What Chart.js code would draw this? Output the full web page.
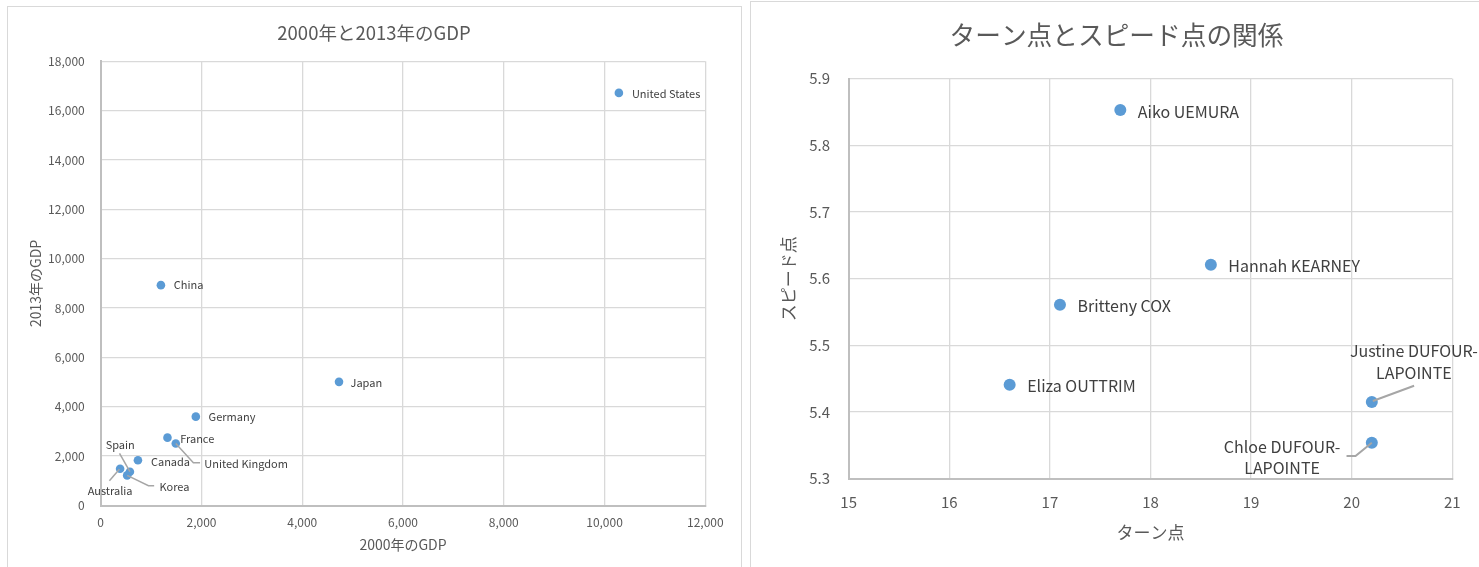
<!DOCTYPE html>
<html><head><meta charset="utf-8">
<script src="https://cdn.jsdelivr.net/npm/chart.js@4.4.1/dist/chart.umd.min.js"></script>
<style>
html,body{margin:0;padding:0;background:#fff;width:1479px;height:567px;overflow:hidden;position:relative;}
.panel{position:absolute;border:1px solid #d9d9d9;box-sizing:border-box;}
canvas{position:absolute;top:0;}
</style></head><body>
<div class="panel" style="left:7px;top:6px;width:735px;height:600px;"></div>
<div class="panel" style="left:750px;top:1px;width:760px;height:600px;"></div>
<canvas id="c1" width="745" height="567" style="left:0"></canvas>
<canvas id="c2" width="734" height="567" style="left:745px"></canvas>
<script>
// ---- data: chart 1 (GDP) ----
const gdpCountries = ['United States','China','Japan','Germany','France','United Kingdom','Canada','Spain','Australia','Korea'];
const gdp2000 = [10285, 1195, 4730, 1888, 1325, 1490, 739, 580, 385, 525];
const gdp2013 = [16720, 8930, 5010, 3600, 2750, 2515, 1835, 1370, 1490, 1220];
const gdpXTicks = [0, 2000, 4000, 6000, 8000, 10000, 12000];
const gdpYTicks = [0, 2000, 4000, 6000, 8000, 10000, 12000, 14000, 16000, 18000];

// ---- data: chart 2 (turn vs speed) ----
const skaters = ['Aiko UEMURA','Hannah KEARNEY','Britteny COX','Eliza OUTTRIM','Justine DUFOUR-LAPOINTE','Chloe DUFOUR-LAPOINTE'];
const turnPoints = [17.7, 18.6, 17.1, 16.6, 20.2, 20.2];
const speedPoints = [5.853, 5.621, 5.561, 5.441, 5.415, 5.354];
const turnTicks = [15, 16, 17, 18, 19, 20, 21];
const speedTicks = [5.3, 5.4, 5.5, 5.6, 5.7, 5.8, 5.9];

const FONT = "'Noto Sans CJK JP', 'Noto Sans', sans-serif";
const TXT = '#595959';

const labelPlugin = {
  id: 'pointLabels',
  afterDatasetsDraw(chart, args, opts) {
    const meta = chart.getDatasetMeta(0);
    const ctx = chart.ctx;
    ctx.save();
    meta.data.forEach((pt, i) => {
      const p = opts.place[i] || {dx: 12, dy: 0};
      const x = pt.x, y = pt.y;
      if (p.line) {
        ctx.beginPath();
        ctx.strokeStyle = opts.lineColor;
        ctx.lineWidth = opts.lineWidth;
        p.line.forEach((q, k) => { k ? ctx.lineTo(x + q[0], y + q[1]) : ctx.moveTo(x + q[0], y + q[1]); });
        ctx.stroke();
      }
      const name = opts.names[i];
      let lines = [name];
      if (p.wrap) {
        const k = name.indexOf('-');
        lines = [name.slice(0, k + 1), name.slice(k + 1)];
      }
      ctx.font = opts.size + 'px ' + FONT;
      ctx.fillStyle = opts.color;
      ctx.textAlign = p.align || 'left';
      ctx.textBaseline = 'middle';
      lines.forEach((t, k) => ctx.fillText(t, x + p.dx, y + p.dy + k * (p.lh || 0)));
    });
    ctx.restore();
  }
};

// chart title centred on the whole panel (not only on the plot box)
const panelTitlePlugin = {
  id: 'panelTitle',
  afterDraw(chart, args, opts) {
    const ctx = chart.ctx;
    ctx.save();
    ctx.font = (opts.weight || 'normal') + ' ' + opts.size + 'px ' + FONT;
    ctx.fillStyle = TXT;
    ctx.textAlign = 'center';
    ctx.textBaseline = 'middle';
    ctx.fillText(opts.text, opts.cx, opts.cy);
    ctx.restore();
  }
};

function axis(c) {
  return {
    type: 'linear', position: c.position, min: c.ticks[0], max: c.ticks[c.ticks.length - 1],
    afterBuildTicks: s => { s.ticks = c.ticks.map(v => ({value: v})); },
    afterFit: s => { if (c.position === 'bottom') s.height = c.size; else s.width = c.size; },
    grid: {color: '#d9d9d9', lineWidth: 1.3, drawTicks: false},
    border: {color: '#bfbfbf', width: 2},
    ticks: {color: TXT, autoSkip: false, maxRotation: 0, font: {family: FONT, size: c.tickSize}, padding: c.tickPad, callback: c.fmt},
    title: {display: true, text: c.title, color: TXT, font: {family: FONT, size: c.titleSize}, padding: c.titlePad}
  };
}

function makeChart(id, c) {
  return new Chart(document.getElementById(id), {
    type: 'scatter',
    data: {datasets: [{
      data: c.xs.map((x, i) => ({x: x, y: c.ys[i]})),
      backgroundColor: '#5B9BD5', borderColor: '#5B9BD5', borderWidth: 0,
      pointRadius: c.r, pointHoverRadius: c.r
    }]},
    options: {
      responsive: false, animation: false, devicePixelRatio: 1,
      layout: {padding: {left: 0, top: c.padTop, right: c.padRight, bottom: 0}},
      plugins: {
        legend: {display: false}, tooltip: {enabled: false}, title: {display: false},
        panelTitle: c.title,
        pointLabels: c.labels
      },
      scales: {x: axis(c.x), y: axis(c.y)}
    },
    plugins: [labelPlugin, panelTitlePlugin]
  });
}

makeChart('c1', {
  xs: gdp2000, ys: gdp2013, r: 4.3, padRight: 39.7, padTop: 61.3,
  title: {text: '2000年と2013年のGDP', size: 18.5, cx: 374, cy: 33},
  x: {position: 'bottom', ticks: gdpXTicks, size: 61.5, tickSize: 12, tickPad: 9.5,
      fmt: v => v.toLocaleString('en-US'), title: '2000年のGDP', titleSize: 14, titlePad: {top: 0, bottom: 14.3}},
  y: {position: 'left', ticks: gdpYTicks, size: 100.7, tickSize: 12, tickPad: 16,
      fmt: v => v.toLocaleString('en-US'), title: '2013年のGDP', titleSize: 14, titlePad: {top: 27, bottom: 0}},
  labels: {
    names: gdpCountries, size: 11, color: '#404040', lineColor: '#a6a6a6', lineWidth: 1.5,
    place: [
      {dx: 13, dy: 1},
      {dx: 12.8, dy: 0},
      {dx: 11.5, dy: 0.5},
      {dx: 12.8, dy: 0.5},
      {dx: 12.7, dy: 0.7},
      {dx: 28.6, dy: 20, line: [[0, 0], [17.6, 19.4], [24.3, 19.4]]},
      {dx: 13, dy: 1.3},
      {dx: -9.7, dy: -26.4, align: 'center', line: [[-10.4, -18.4], [0, 0]]},
      {dx: -10, dy: 22, align: 'center', line: [[-10.7, 12], [-0.7, 0.6]]},
      {dx: 32.3, dy: 11.4, line: [[0, 0], [21.3, 10.4], [27, 10.4]]}
    ]
  }
});

makeChart('c2', {
  xs: turnPoints, ys: speedPoints, r: 6, padRight: 26.7, padTop: 78.7,
  title: {text: 'ターン点とスピード点の関係', size: 25.7, cx: 371.5, cy: 35.3},
  x: {position: 'bottom', ticks: turnTicks, size: 88.3, tickSize: 15, tickPad: 15,
      fmt: v => String(v), title: 'ターン点', titleSize: 17, titlePad: {top: 0, bottom: 24.4}},
  y: {position: 'left', ticks: speedTicks, size: 103.7, tickSize: 15, tickPad: 18.7,
      fmt: v => v.toFixed(1), title: 'スピード点', titleSize: 17, titlePad: {top: 33.3, bottom: 0}},
  labels: {
    names: skaters, size: 16, color: '#404040', lineColor: '#a6a6a6', lineWidth: 2,
    place: [
      {dx: 17.5, dy: 1.5},
      {dx: 17.5, dy: 1},
      {dx: 17.5, dy: 1.2},
      {dx: 17.5, dy: 1.4},
      {dx: 42, dy: -51.6, align: 'center', wrap: true, lh: 22, line: [[42.3, -16.3], [1, -1]]},
      {dx: -89.8, dy: 4.6, align: 'center', wrap: true, lh: 20.5, line: [[0, 0], [-16.3, 13.3], [-25.3, 13.3]]}
    ]
  }
});
</script>
</body></html>
